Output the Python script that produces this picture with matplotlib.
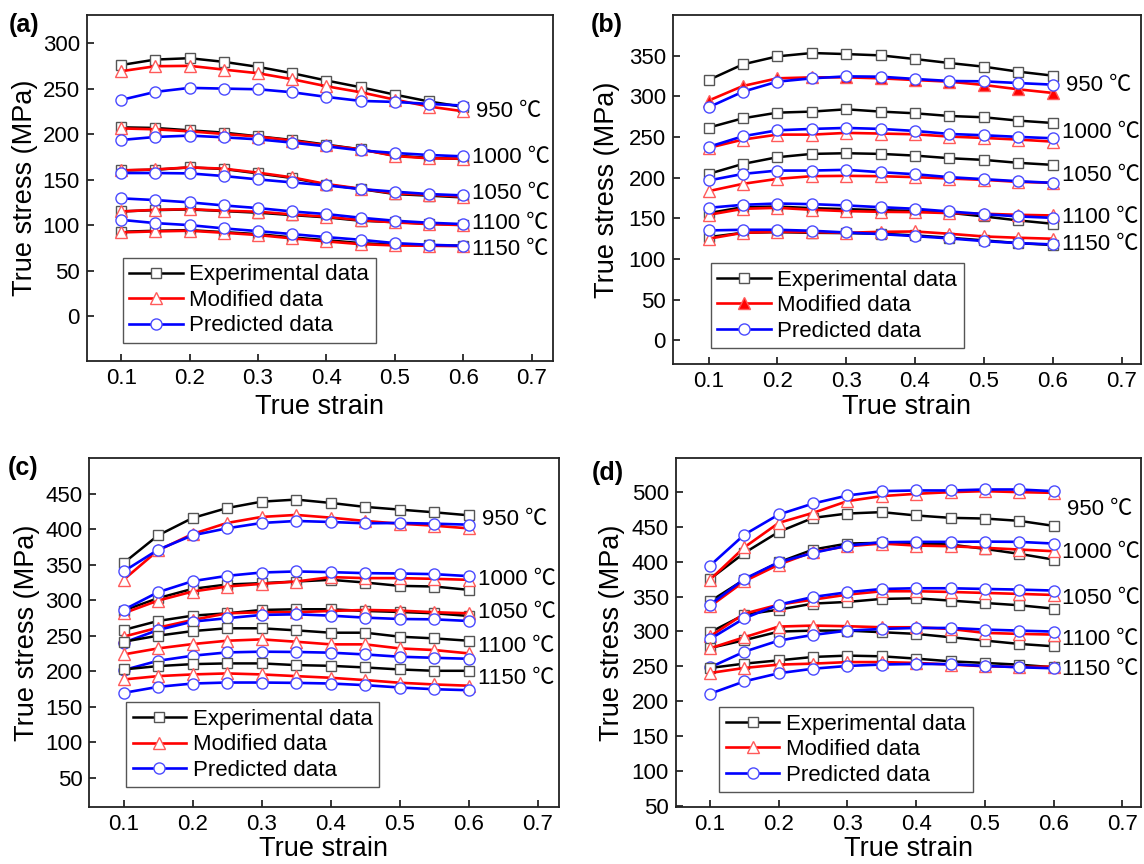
import numpy as np
import matplotlib
matplotlib.use("Agg")
import matplotlib.pyplot as plt

plt.rcParams['font.family'] = ['Liberation Sans', 'Noto Sans CJK SC']

strain = [0.10, 0.15, 0.20, 0.25, 0.30, 0.35, 0.40, 0.45, 0.50, 0.55, 0.60]
temps = ["950", "1000", "1050", "1100", "1150"]
series_names = ["Experimental data", "Modified data", "Predicted data"]

# (a) rows: 950, 1000, 1050, 1100, 1150 C
a_exp = [[276, 282, 283.5, 279.5, 274, 267, 259, 251.6, 243.5, 236, 230],
         [207.6, 206.9, 204.3, 201.8, 197.7, 193.7, 188.6, 183.4, 176.5, 174, 172.8],
         [160.3, 161, 163.6, 161.8, 157, 151.9, 144.6, 139.8, 134.3, 132.5, 130.6],
         [115.2, 116.7, 117.4, 115.6, 113.8, 111.2, 108.7, 105, 103.5, 101.7, 100.6],
         [92.9, 94, 94.7, 92.5, 90.3, 86.7, 83.7, 80.4, 78.6, 77.9, 77.5]]
a_mod = [[269.2, 274.7, 275.1, 271, 267, 260.4, 252.7, 246.1, 238, 230.4, 225.2],
         [206.4, 205.4, 203.2, 200.3, 197.4, 193, 187.8, 183.4, 176.1, 173.5, 173.2],
         [160.3, 161.4, 163.6, 162.2, 157.8, 152.6, 145.3, 140.2, 135, 133.6, 131.4],
         [115.2, 117, 117.8, 116, 114.9, 112, 109.4, 105.7, 103.2, 101.3, 100.2],
         [92.2, 93.3, 94, 91.8, 89.3, 85.6, 82.3, 79.3, 77.9, 77.5, 77.1]]
a_pred = [[237.7, 246.5, 250.9, 250.1, 249.4, 246.1, 241, 236.6, 235.5, 233.3, 231.5],
          [193.7, 197, 198.5, 196.6, 194.4, 190.8, 186.7, 182.3, 179.4, 177.2, 175.7],
          [157.4, 157.4, 157, 154.1, 150.4, 147.1, 143.8, 139.8, 136.9, 134.3, 132.8],
          [129.6, 127.7, 125.2, 121.8, 118.9, 115.2, 112.3, 108.3, 105, 102.8, 101.3],
          [106, 102.4, 100.2, 96.6, 93.6, 90.3, 87, 84.1, 80.4, 78.6, 77.5]]

# (b)
b_exp = [[320.1, 339.4, 349.2, 353.3, 352, 350.4, 345.9, 341, 336.5, 330.4, 325.5],
         [261.6, 273.1, 280, 281.3, 284.1, 281.3, 279.2, 275.9, 274.3, 270.2, 267.3],
         [204.7, 217, 225.2, 229.3, 230.1, 229.3, 227.2, 224, 221.9, 218.3, 215.8],
         [156.5, 163.8, 164.6, 162.6, 161.4, 160.1, 159.3, 156.9, 152.4, 147.5, 143.4],
         [127, 132.3, 133.1, 132.3, 131.9, 131.1, 129.1, 126.2, 123, 119.6, 117.2]]
b_mod = [[294.8, 312.8, 322.2, 323.4, 323.4, 322.2, 320.1, 318.1, 314, 308.7, 304.2],
         [236.7, 246.9, 253, 253, 255.1, 254.3, 253.4, 250.6, 248.9, 246.9, 244.4],
         [183.5, 192.5, 198.6, 201.9, 202.3, 201.9, 200.7, 199, 197.4, 194.9, 193.7],
         [154.4, 161.8, 163, 160.6, 158.9, 158.1, 157.7, 156.5, 155.7, 154.4, 153.6],
         [125, 132.3, 133.5, 133.1, 132.3, 133.5, 133.9, 131.1, 127.8, 126.2, 125]]
b_pred = [[286.6, 305.8, 318.1, 322.2, 324.6, 324.2, 321.4, 318.9, 318.5, 316.4, 314.4],
          [237.9, 251, 258.3, 260, 261.2, 260, 257.5, 253.8, 252.2, 250.2, 248.5],
          [196.6, 204.7, 208.8, 208.8, 209.7, 206.8, 204.3, 200.7, 198.2, 195.7, 193.7],
          [163, 166.7, 168.3, 167.5, 165.9, 163.8, 161.8, 158.5, 155.3, 152.4, 150.7],
          [135.2, 136, 136, 134.8, 132.7, 130.7, 128.2, 125.4, 122.1, 119.6, 118]]

# (c)
c_exp = [[352.1, 391.1, 415.6, 429.6, 438.6, 441.5, 436.8, 431.2, 427.4, 423.6, 419.4],
         [285.3, 302.8, 315.9, 322, 323.9, 326.2, 328.6, 324.8, 320.1, 319.2, 314.5],
         [258, 270.7, 278.2, 281.5, 286.2, 287.2, 287.2, 284.8, 283.4, 281.5, 277.8],
         [241.5, 250, 256.5, 260.4, 260.4, 257.5, 254.2, 254.2, 248.6, 246.2, 242.9],
         [202.5, 207.2, 210, 211, 211, 208.6, 207.6, 205.3, 202.5, 200.6, 200.6]]
c_mod = [[328.6, 370, 393.1, 408.6, 417.1, 419.9, 416.1, 411.4, 407.6, 404.8, 401],
         [281.5, 299.4, 312.1, 319.2, 322.9, 326.2, 332.4, 331, 331, 330, 328.6],
         [248.6, 261.3, 272.1, 281.5, 283, 283, 284.8, 286.2, 285.3, 283, 281.5],
         [223.6, 232.1, 238.2, 242.9, 244.8, 241.5, 237.8, 237.8, 232.1, 229.8, 225.1],
         [188.4, 193.1, 195.5, 196.9, 195.5, 193.1, 190.8, 187.5, 183.8, 181.4, 179.6]]
c_pred = [[340.4, 370.9, 391.2, 401.1, 408.6, 411.4, 410, 408.1, 408.6, 407.6, 406.2],
          [286.2, 311.2, 326.7, 334.2, 338.9, 340.4, 339.4, 338, 337.5, 336.6, 333.8],
          [240.1, 258, 269.8, 274.6, 279.2, 280.1, 278.2, 275.4, 273.5, 273, 270.7],
          [201.5, 214.7, 221.8, 226.5, 227.5, 227.1, 226.1, 223.6, 220.4, 218.9, 217.5],
          [169.5, 178, 182.7, 184.1, 184.1, 183.6, 182.7, 180.4, 177.1, 174.7, 173.3]]

# (d)
d_exp = [[375.4, 412.8, 443, 463.1, 469.3, 471.3, 466.5, 463.1, 462.1, 458.8, 451.6],
         [343.3, 374.5, 399.4, 417.6, 426.2, 427.2, 426.2, 424.8, 418.5, 411.4, 403.2],
         [298.8, 324.2, 331.3, 340, 342.4, 346.7, 347.6, 344.3, 340.9, 337.6, 332.8],
         [276.2, 287.5, 299.8, 301.2, 301.2, 298.9, 296.5, 291.7, 286.9, 282.1, 278.7],
         [247.6, 253.8, 258.5, 263.4, 265.3, 264.3, 261, 257.1, 254.8, 252.3, 248.6]]
d_mod = [[374.5, 420.9, 455.9, 470.3, 487.1, 494.3, 497.6, 500, 501.4, 500, 499],
         [336.1, 372.1, 396, 414.2, 422.4, 426.2, 423.3, 422.4, 420, 417.6, 415.2],
         [293, 325.6, 338.5, 345.7, 352.9, 357.7, 357.7, 356.7, 355.3, 353.9, 352.4],
         [275.9, 291.7, 307, 308.4, 307.5, 306, 306, 303.6, 297.9, 296.5, 295.5],
         [240.4, 247.6, 252.4, 253.8, 256, 256, 254.8, 252.5, 250, 249, 249.5]]
d_pred = [[394.6, 439.1, 467.9, 483.7, 495.2, 501.4, 502.4, 502.4, 503.8, 503.8, 501.4],
          [338.5, 375.5, 399.4, 412.8, 423.3, 428.1, 428.6, 428.6, 429, 428.6, 426.2],
          [289.2, 319, 338.5, 349.5, 356.3, 361, 362, 362, 361, 360.1, 358.7],
          [248.5, 271, 286.9, 295, 301.2, 303.6, 305, 305, 302.7, 301.2, 299.8],
          [210.6, 228.4, 240, 246.5, 250.5, 252.5, 253.4, 253, 250.5, 248.6, 247.1]]


def panel(fig, rect, exp, mod, pred, letter, letter_xy, ylim, xlim, yticks,
          lab_y, leg_xy, ylab_x, xlab_y, filled_mod=()):
    ax = fig.add_axes(rect)
    lines = []
    for i in range(len(temps)):
        l1, = ax.plot(strain, exp[i], color='black', lw=1.8, marker='s', ms=6.5,
                      mfc='white', mec='#555555', mew=1.0)
        face = 'red' if i in filled_mod else 'white'
        l2, = ax.plot(strain, mod[i], color='red', lw=1.9, marker='^', ms=8,
                      mfc=face, mec='#ff5a5a', mew=1.0)
        l3, = ax.plot(strain, pred[i], color='blue', lw=1.9, marker='o', ms=8,
                      mfc='white', mec='#4a4aff', mew=1.0)
        if i == 0:
            lines = [l1, l2, l3]
        tx = 0.619 if i == 0 else 0.613
        ax.text(tx, lab_y[i], temps[i] + " \u2103", fontsize=16, va='center', ha='left')

    ax.set_xlim(*xlim)
    ax.set_ylim(*ylim)
    ax.set_xticks([0.1, 0.2, 0.3, 0.4, 0.5, 0.6, 0.7])
    ax.set_xticklabels(["0.1", "0.2", "0.3", "0.4", "0.5", "0.6", "0.7"])
    ax.set_yticks(yticks)
    ax.tick_params(direction='in', length=5, width=1.1, labelsize=16, pad=5,
                   top=False, right=False)
    for s in ax.spines.values():
        s.set_linewidth(1.3)
        s.set_color('#222222')

    ax.set_xlabel("True strain", fontsize=19.5)
    ax.set_ylabel("True stress (MPa)", fontsize=19.5)
    ax.xaxis.set_label_coords(0.5, xlab_y)
    ax.yaxis.set_label_coords(ylab_x, 0.5)

    leg = ax.legend(lines, series_names, loc='lower left', bbox_to_anchor=leg_xy,
                    borderaxespad=0, fontsize=16, handlelength=2.4,
                    handletextpad=0.3, borderpad=0.3, labelspacing=0.2,
                    fancybox=False, framealpha=1)
    leg.get_frame().set_edgecolor('#555555')
    leg.get_frame().set_linewidth(1.0)

    fig.text(letter_xy[0], letter_xy[1], letter, fontsize=18, fontweight='bold',
             ha='left', va='center')
    return ax


def main():
    fig = plt.figure(figsize=(11.44, 8.64), dpi=100)

    panel(fig, [0.0760, 0.5822, 0.4073, 0.4005], a_exp, a_mod, a_pred,
          "(a)", (0.008, 0.971), (-49, 331), (0.05, 0.731), np.arange(0, 301, 50),
          [225, 174, 135, 102, 73], (0.077, 0.052), -0.105, -0.095)
    panel(fig, [0.5881, 0.5787, 0.4091, 0.4039], b_exp, b_mod, b_pred,
          "(b)", (0.516, 0.971), (-29, 400), (0.048, 0.728), np.arange(0, 351, 50),
          [313, 256, 203, 151, 118], (0.081, 0.045), -0.113, -0.085, filled_mod=(0,))
    panel(fig, [0.0782, 0.0660, 0.4100, 0.4039], c_exp, c_mod, c_pred,
          "(c)", (0.007, 0.458), (9, 500), (0.0507, 0.73), np.arange(50, 451, 50),
          [413, 329, 282, 235, 190], (0.078, 0.056), -0.106, -0.082)
    panel(fig, [0.5907, 0.0660, 0.4065, 0.4039], d_exp, d_mod, d_pred,
          "(d)", (0.517, 0.452), (48, 549), (0.05, 0.727), np.arange(50, 501, 50),
          [475, 413, 347, 288, 246], (0.094, 0.042), -0.109, -0.082)

    fig.savefig("out.png", dpi=100)


if __name__ == '__main__':
    main()
